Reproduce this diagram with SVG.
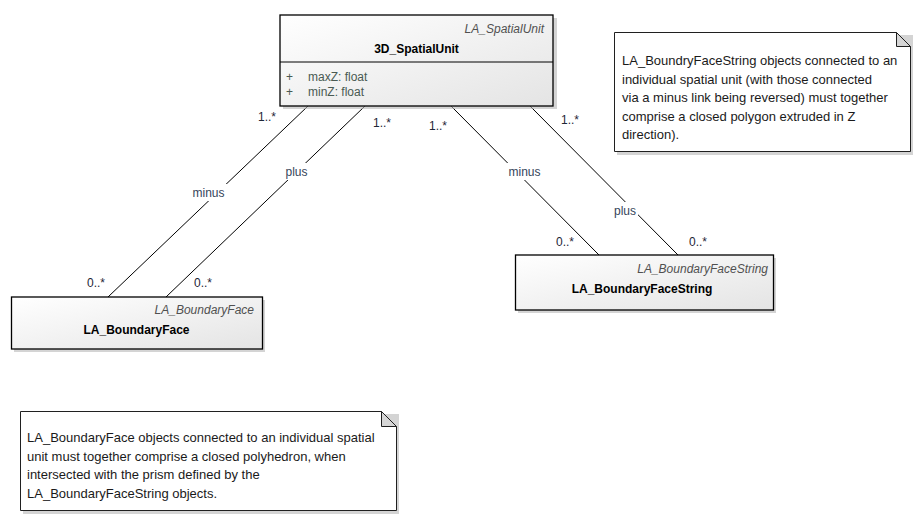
<svg xmlns="http://www.w3.org/2000/svg" width="913" height="518" viewBox="0 0 913 518">
<defs>
<linearGradient id="cls" x1="0" y1="0" x2="1" y2="1">
<stop offset="0" stop-color="#ffffff"/>
<stop offset="1" stop-color="#e4e4e4"/>
</linearGradient>
<style>
text{font-family:"Liberation Sans",Arial,sans-serif;}
.box{fill:url(#cls);stroke:#000;stroke-width:1.3;}
.shadow{fill:#b8b8b8;opacity:0.6;}
.stereo{font-size:12px;font-style:italic;fill:#505050;text-anchor:end;}
.name{font-size:12px;font-weight:bold;fill:#000;text-anchor:middle;}
.attr{font-size:12px;fill:#4a5a52;}
.conn{stroke:#000;stroke-width:1;fill:none;}
.mult{font-size:12px;fill:#1e2636;}
.role{font-size:12px;fill:#35455a;text-anchor:middle;}
.lbg{fill:#fff;}
.note{fill:#fff;stroke:#202020;stroke-width:1;}
.fold{fill:#d6d6d6;stroke:#202020;stroke-width:1;}
.ntext{font-size:13px;fill:#1a1a1a;}
</style>
</defs>
<rect width="913" height="518" fill="#fff"/>

<g id="connectors">
<line class="conn" x1="308" y1="106" x2="108" y2="297"/>
<line class="conn" x1="365" y1="106" x2="166" y2="297"/>
<line class="conn" x1="451" y1="106" x2="599" y2="255"/>
<line class="conn" x1="530" y1="106" x2="678" y2="255"/>
<rect class="lbg" x="190" y="184" width="37" height="17"/>
<text class="role" x="208.5" y="197">minus</text>
<rect class="lbg" x="284" y="163" width="25" height="17"/>
<text class="role" x="296.5" y="176">plus</text>
<rect class="lbg" x="506" y="163" width="37" height="17"/>
<text class="role" x="524.5" y="176">minus</text>
<rect class="lbg" x="613" y="202" width="25" height="17"/>
<text class="role" x="625" y="215">plus</text>
<text class="mult" x="258" y="121">1..*</text>
<text class="mult" x="373" y="127">1..*</text>
<text class="mult" x="429" y="130">1..*</text>
<text class="mult" x="561" y="124">1..*</text>
<text class="mult" x="87" y="287">0..*</text>
<text class="mult" x="194" y="287">0..*</text>
<text class="mult" x="556" y="246">0..*</text>
<text class="mult" x="689" y="246">0..*</text>
</g>

<g id="spatialunit">
<rect class="shadow" x="283" y="18" width="274" height="91"/>
<rect class="box" x="280" y="15" width="273" height="91"/>
<line x1="280" y1="62" x2="553" y2="62" stroke="#000" stroke-width="1"/>
<text class="stereo" x="544" y="33">LA_SpatialUnit</text>
<text class="name" x="416.5" y="53">3D_SpatialUnit</text>
<text class="attr" x="286" y="81">+</text>
<text class="attr" x="308" y="81">maxZ: float</text>
<text class="attr" x="286" y="96">+</text>
<text class="attr" x="308" y="96">minZ: float</text>
</g>

<g id="boundaryface">
<rect class="shadow" x="14" y="300" width="251" height="52"/>
<rect class="box" x="11.5" y="297" width="251" height="52"/>
<text class="stereo" x="254" y="314">LA_BoundaryFace</text>
<text class="name" x="136.5" y="334">LA_BoundaryFace</text>
</g>

<g id="boundaryfacestring">
<rect class="shadow" x="518" y="258" width="258" height="55"/>
<rect class="box" x="515.5" y="255" width="258" height="55"/>
<text class="stereo" x="768" y="273">LA_BoundaryFaceString</text>
<text class="name" x="642" y="293">LA_BoundaryFaceString</text>
</g>

<g id="note1">
<rect class="shadow" x="617" y="35" width="296" height="120"/>
<path class="note" d="M614.5,32.5 H896.5 L910.5,46.5 V151.5 H614.5 Z"/>
<path class="fold" d="M896.5,32.5 V46.5 H910.5 Z"/>
<text class="ntext" x="622" y="65">LA_BoundryFaceString objects connected to an</text>
<text class="ntext" x="622" y="83.5">individual spatial unit (with those connected</text>
<text class="ntext" x="622" y="102">via a minus link being reversed) must together</text>
<text class="ntext" x="622" y="120.5">comprise a closed polygon extruded in Z</text>
<text class="ntext" x="622" y="139">direction).</text>
</g>

<g id="note2">
<rect class="shadow" x="23" y="414" width="376" height="100"/>
<path class="note" d="M20.5,411.5 H381.5 L396.5,426.5 V510.5 H20.5 Z"/>
<path class="fold" d="M381.5,411.5 V426.5 H396.5 Z"/>
<text class="ntext" x="27" y="442">LA_BoundaryFace objects connected to an individual spatial</text>
<text class="ntext" x="27" y="460.5">unit must together comprise a closed polyhedron, when</text>
<text class="ntext" x="27" y="479">intersected with the prism defined by the</text>
<text class="ntext" x="27" y="497.5">LA_BoundaryFaceString objects.</text>
</g>
</svg>
